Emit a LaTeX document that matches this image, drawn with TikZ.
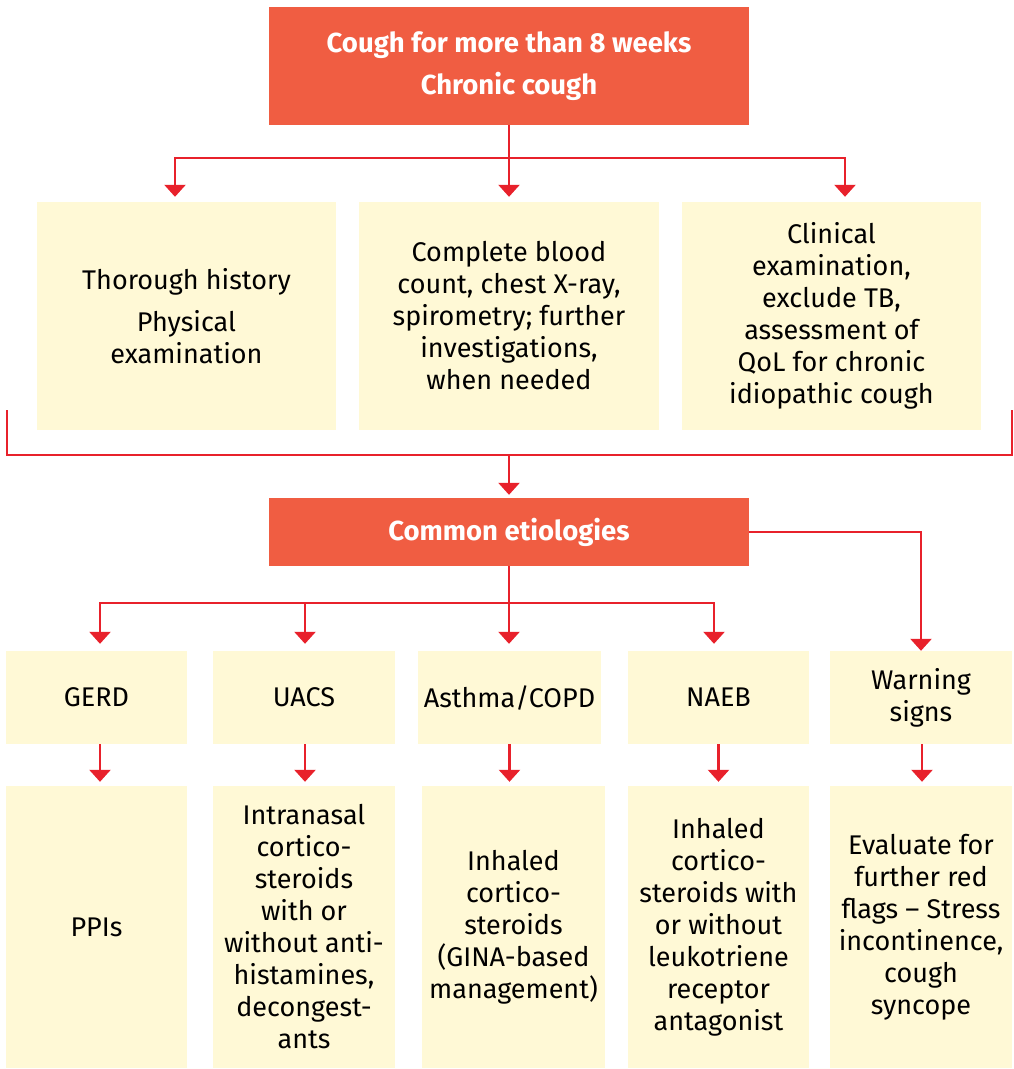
\documentclass[tikz,border=0pt]{standalone}
\usepackage{fontspec}
\setmainfont{Fira Sans}
\usetikzlibrary{arrows.meta}
\definecolor{headred}{HTML}{F05D42}
\definecolor{linkred}{HTML}{E8212B}
\definecolor{paleyellow}{HTML}{FFF9D6}
\tikzset{
  headbox/.style={rectangle, fill=headred, text=white, inner sep=0pt, align=center,
    minimum width=480pt, font=\fontsize{27.5}{32}\selectfont\bfseries},
  stepbox/.style={rectangle, fill=paleyellow, inner sep=0pt, align=center,
    font=\fontsize{27}{32}\selectfont},
  link/.style={draw=linkred, line width=2.5pt},
  arrow/.style={link, -{Triangle[width=21pt,length=12pt]}, shorten >=4pt}
}
\begin{document}
\begin{tikzpicture}[x=1pt, y=-1pt]
  \useasboundingbox (0,0) rectangle (1014,1069);
  % top of the chart
  \node[headbox, minimum height=118pt] (cough) at (509,66) {Cough for more than 8 weeks\\[10pt]Chronic cough};
  \node[stepbox, minimum width=299pt, minimum height=228pt] (history) at (186.5,316) {Thorough history\\[10pt]Physical\\examination};
  \node[stepbox, minimum width=300pt, minimum height=228pt] (blood) at (509,316) {Complete blood\\count, chest X-ray,\\spirometry; further\\investigations,\\when needed};
  \node[stepbox, minimum width=299pt, minimum height=228pt] (clinical) at (831.5,316) {Clinical\\examination,\\exclude TB,\\assessment of\\QoL for chronic\\idiopathic cough};
  \draw[arrow, shorten >=5pt] (cough.south) -- (blood.north);
  \draw[arrow, shorten >=5pt] (cough.south) -- ++(0,33) -| ([xshift=-11.5pt]history.north);
  \draw[arrow, shorten >=5pt] (cough.south) -- ++(0,33) -| ([xshift=13.5pt]clinical.north);
  % bracket under the first row
  \coordinate (bl) at (7,410);
  \coordinate (br) at (1012,410);
  \coordinate (bb) at (509,455);
  \draw[link] (bl) |- (bb) -| (br);
  \node[headbox, minimum height=68pt] (common) at (509,532) {Common etiologies};
  \draw[arrow, shorten >=3pt] (bb) -- (common.north);
  % etiologies
  \node[stepbox, minimum width=181pt, minimum height=93pt] (gerd) at (96.5,697.5) {GERD};
  \node[stepbox, minimum width=182pt, minimum height=93pt] (uacs) at (304,697.5) {UACS};
  \node[stepbox, minimum width=183pt, minimum height=93pt] (asthma) at (509.5,697.5) {Asthma/COPD};
  \node[stepbox, minimum width=181pt, minimum height=93pt] (naeb) at (718.5,697.5) {NAEB};
  \node[stepbox, minimum width=182pt, minimum height=93pt] (warn) at (921,697.5) {Warning\\signs};
  \draw[arrow, shorten >=7pt] (common.south) -- ++(0,37) -| ([xshift=3.5pt]gerd.north);
  \draw[arrow, shorten >=7pt] (common.south) -- ++(0,37) -| ([xshift=1pt]uacs.north);
  \draw[arrow, shorten >=7pt] (common.south) -- (common.south |- asthma.north);
  \draw[arrow, shorten >=7pt] (common.south) -- ++(0,37) -| ([xshift=-4.5pt]naeb.north);
  \draw[arrow, shorten >=0pt] (common.east) -| (warn.north);
  % treatments
  \node[stepbox, minimum width=181pt, minimum height=282pt] (ppi) at (96.5,927) {PPIs};
  \node[stepbox, minimum width=182pt, minimum height=282pt] (nasal) at (304,927) {Intranasal\\cortico-\\steroids\\with or\\without anti-\\histamines,\\decongest-\\ants};
  \node[stepbox, minimum width=183pt, minimum height=282pt] (inhaled) at (513.5,927) {Inhaled\\cortico-\\steroids\\(GINA-based\\management)};
  \node[stepbox, minimum width=181pt, minimum height=282pt] (leuko) at (718.5,927) {Inhaled\\cortico-\\steroids with\\or without\\leukotriene\\receptor\\antagonist};
  \node[stepbox, minimum width=182pt, minimum height=282pt] (redflag) at (921,927) {Evaluate for\\further red\\flags – Stress\\incontinence,\\cough\\syncope};
  \draw[arrow] ([xshift=3.5pt]gerd.south) -- ([xshift=3.5pt]gerd.south |- ppi.north);
  \draw[arrow] ([xshift=1pt]uacs.south) -- ([xshift=1pt]uacs.south |- nasal.north);
  \draw[arrow] (asthma.south) -- (asthma.south |- inhaled.north);
  \draw[arrow] (naeb.south) -- (leuko.north);
  \draw[arrow] ([xshift=1pt]warn.south) -- ([xshift=1pt]redflag.north);
\end{tikzpicture}
\end{document}
